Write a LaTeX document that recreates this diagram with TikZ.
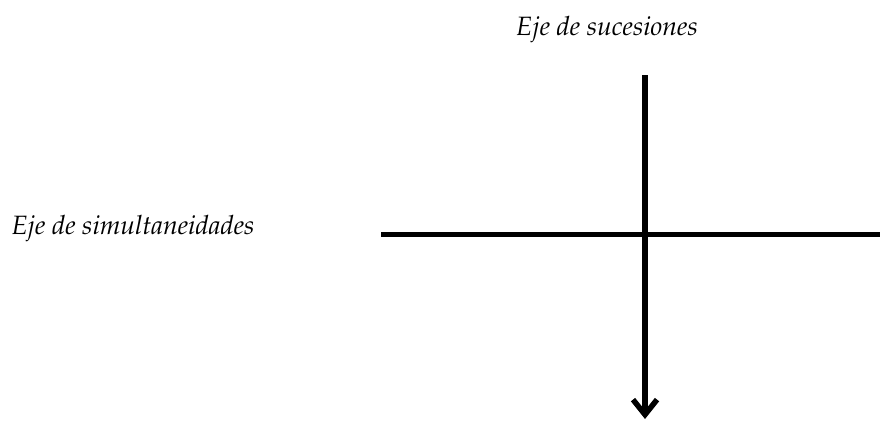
\documentclass[tikz,border=0pt]{standalone}
\usepackage[T1]{fontenc}
\usepackage{mathpazo}
\usetikzlibrary{arrows.meta}
\tikzset{
  axis/.style={line width=5.5pt, line cap=butt},
  lbl/.style={font=\fontsize{26.5}{32}\selectfont\itshape, inner sep=0pt}
}
\begin{document}
\begin{tikzpicture}[x=1pt,y=-1pt]
\useasboundingbox (0,0) rectangle (880,421);
\coordinate (vtop) at (645,75);
\coordinate (vbot) at (645,419);
\coordinate (hl) at (381,234.5);
\coordinate (hr) at (880,234.5);
\draw[axis] (hl) -- (hr);
\draw[axis, -{Straight Barb[length=15pt,width=24pt]}] (vtop) -- (vbot);
\node[lbl] (suc) at (607,30) {Eje de sucesiones};
\node[lbl] (sim) at (133,229) {Eje de simultaneidades};
\end{tikzpicture}
\end{document}
